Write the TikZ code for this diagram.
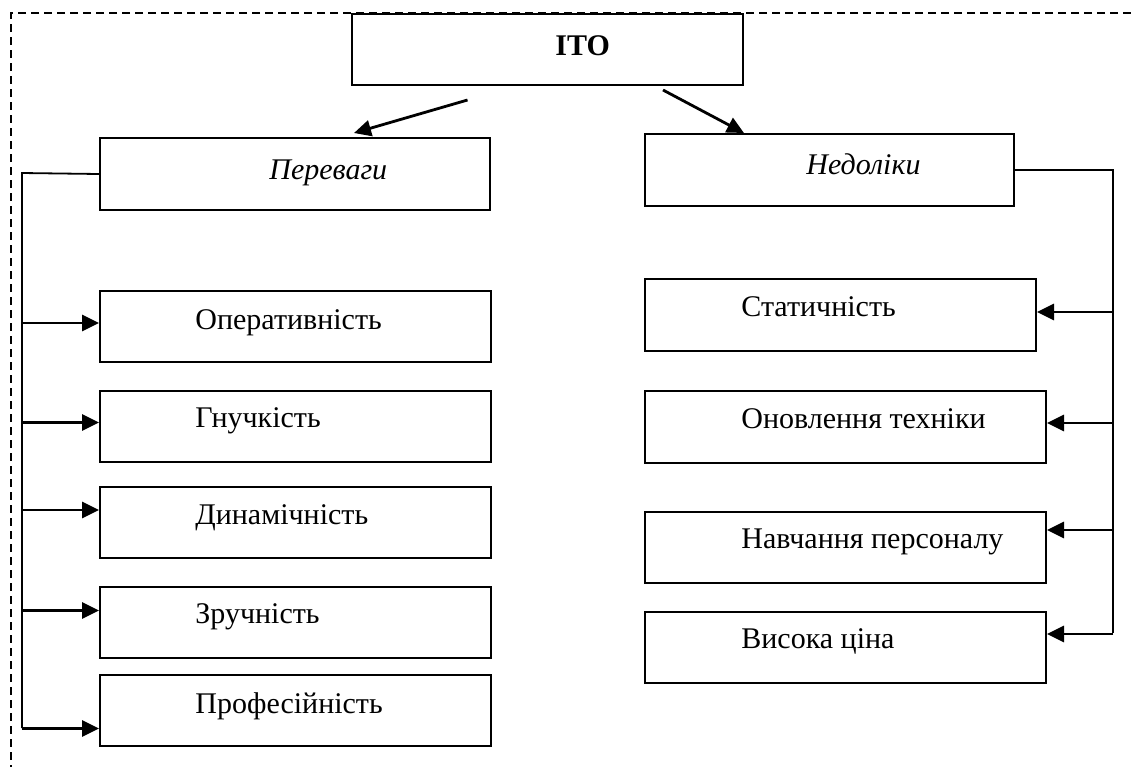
\documentclass[tikz,border=0pt]{standalone}
\usepackage{fontspec}
\setmainfont{Liberation Serif}
\usetikzlibrary{arrows.meta}
\usetikzlibrary{calc}
\tikzstyle{box} = [rectangle, draw = black, line width=1pt, anchor=north west, inner sep=0pt, minimum height=35.5pt]
\tikzstyle{txt} = [anchor=base west, inner sep=0pt, font=\fontsize{15}{18}\selectfont]
\tikzstyle{line} = [line width=0.9pt]
\tikzstyle{arrow} = [-{Triangle[length=8.5pt,width=8pt]}, line width=1.4pt]
\tikzstyle{frame} = [dash pattern=on 4pt off 2.5pt, line width=0.8pt]

\begin{document}
\begin{tikzpicture}[x=0.5pt, y=-0.5pt]
	\useasboundingbox (0,0) rectangle (1131,767);
	\draw [frame] (1131,13) -- (11,13) -- (11,767);
	\node (ito) [box, fill=white, minimum width=195.5pt, label={[txt, xshift=102pt, yshift=-2.75pt]west:\bfseries ІТО}] at (351,13) {};
	\node (per) [box, minimum width=195pt, minimum height=36pt, label={[txt, xshift=85pt, yshift=-2.5pt]west:\itshape Переваги}] at (99,137) {};
	\node (ned) [box, minimum width=184.5pt, minimum height=36pt, label={[txt, xshift=81pt, yshift=-2pt]west:\itshape Недоліки}] at (644,133) {};
	% left column
	\node (op) [box, minimum width=195.5pt, label={[txt, xshift=48pt, yshift=-1.5pt]west:Оперативність}] at (99,290) {};
	\node (gn) [box, minimum width=195.5pt, label={[txt, xshift=48pt, yshift=-0.5pt]west:Гнучкість}] at (99,390) {};
	\node (dyn) [box, minimum width=195.5pt, label={[txt, xshift=48pt, yshift=-0.75pt]west:Динамічність}] at (99,486) {};
	\node (zr) [box, minimum width=195.5pt, label={[txt, xshift=48pt, yshift=-0.5pt]west:Зручність}] at (99,586) {};
	\node (pr) [box, minimum width=195.5pt, label={[txt, xshift=48pt, yshift=-1.5pt]west:Професійність}] at (99,674) {};
	% right column
	\node (st) [box, minimum width=195.5pt, minimum height=36pt, label={[txt, xshift=48.5pt, yshift=-0.5pt]west:Статичність}] at (644,278) {};
	\node (on) [box, minimum width=200.5pt, minimum height=36pt, label={[txt, xshift=48.5pt, yshift=-0.5pt]west:Оновлення техніки}] at (644,390) {};
	\node (nav) [box, minimum width=200.5pt, label={[txt, xshift=48.5pt, yshift=-0.5pt]west:Навчання персоналу}] at (644,511) {};
	\node (vys) [box, minimum width=200.5pt, label={[txt, xshift=48.5pt, yshift=-0.5pt]west:Висока ціна}] at (644,611) {};
	\draw [arrow] ([xshift=-40pt,yshift=-7pt]ito.south) -- ([xshift=29.5pt,yshift=2pt]per.north);
	\draw [arrow] ([xshift=57.75pt,yshift=-2pt]ito.south) -- ([xshift=-42.75pt]ned.north);
	\coordinate (ltop) at (22,173);
	\coordinate (lbot) at (22,728);
	\coordinate (rbot) at (1113,633);
	\draw [line] (per.west) -- (ltop) -- (lbot);
	\draw [line] (ned.east) -- (ned.east -| rbot) -- (rbot);
	\foreach \n/\d in {op/-3.5, gn/-4, dyn/-12.5, zr/-12, pr/18}
		\draw [arrow] ($(\n.west -| ltop)+(0,\d)$) -- ($(\n.west)+(0,\d)$);
	\foreach \n/\d in {st/-3, on/-4, nav/-17.5, vys/-13.5}
		\draw [arrow] ($(\n.east -| rbot)+(0,\d)$) -- ($(\n.east)+(0,\d)$);
\end{tikzpicture}
\end{document}
